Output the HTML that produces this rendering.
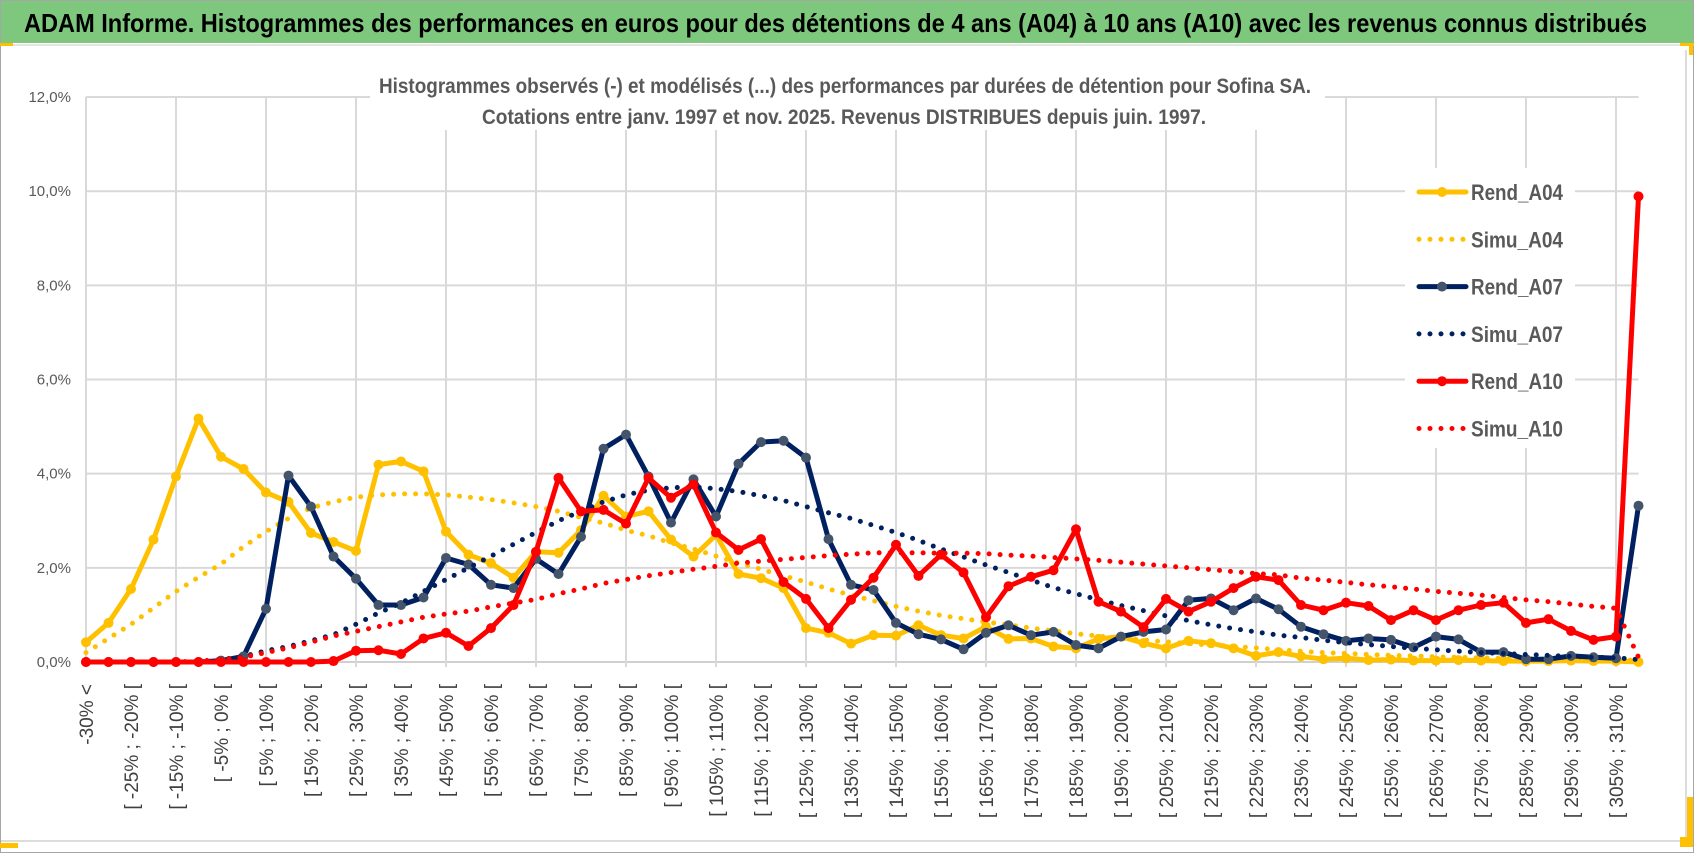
<!DOCTYPE html>
<html><head><meta charset="utf-8">
<style>
html,body{margin:0;padding:0;background:#fff;}
body{width:1698px;height:854px;overflow:hidden;position:relative;font-family:"Liberation Sans",sans-serif;}
svg{position:absolute;left:0;top:0;}
</style></head>
<body>
<svg id="chart" width="1698" height="854" viewBox="0 0 1698 854">
  <rect x="0" y="0" width="1698" height="854" fill="#fff"/>
  <rect x="0.5" y="0.5" width="1693" height="852" fill="none" stroke="#a6a6a6" stroke-width="1"/>
  <rect x="1" y="1" width="1692" height="42" fill="#7ec87e"/>
  <line x1="1" y1="45" x2="1693" y2="45" stroke="#e4e4e4" stroke-width="2"/>
  <rect x="0" y="43" width="13" height="3" fill="#ffc000"/>
  <rect x="1680" y="43" width="14" height="3" fill="#ffc000"/>
  <rect x="1689" y="43" width="4" height="12" fill="#ffc000"/>
  <line x1="1" y1="841" x2="1686" y2="841" stroke="#dcdcdc" stroke-width="2"/>
  <line x1="1686" y1="50" x2="1686" y2="841" stroke="#dcdcdc" stroke-width="2"/>
  <rect x="0" y="843" width="18" height="5" fill="#ffc000"/>
  <rect x="1680" y="837" width="13" height="10" fill="#ffc000"/>
  <rect x="1687" y="797" width="6" height="50" fill="#ffc000"/>
  <text x="24" y="32" font-family="Liberation Sans, sans-serif" font-weight="bold" font-size="26" fill="#000" textLength="1623" lengthAdjust="spacingAndGlyphs">ADAM Informe. Histogrammes des performances en euros pour des détentions de 4 ans (A04) à 10 ans (A10) avec les revenus connus distribués</text>
  <g id="grid"></g>
  <g id="yaxis"></g>
  <g id="xaxis"></g>
  <rect x="370" y="66" width="955" height="64" fill="#fff"/>
  <text x="845" y="93" text-anchor="middle" font-family="Liberation Sans, sans-serif" font-weight="bold" font-size="21" fill="#595959" textLength="932" lengthAdjust="spacingAndGlyphs">Histogrammes observés (-) et modélisés (...)  des performances par durées de détention pour Sofina SA.</text>
  <text x="844" y="124" text-anchor="middle" font-family="Liberation Sans, sans-serif" font-weight="bold" font-size="21" fill="#595959" textLength="724" lengthAdjust="spacingAndGlyphs">Cotations entre janv. 1997 et nov. 2025. Revenus DISTRIBUES depuis juin. 1997.</text>
  <g id="series"></g>
  <g id="legend"></g>
</svg>
<script>
const yTicks = ["0,0%","2,0%","4,0%","6,0%","8,0%","10,0%","12,0%"];
const yTickValues = [0,2,4,6,8,10,12];
const categories = ["-30% <"];
for (let k = 1; k <= 68; k++) { categories.push("[ " + (-35 + 5*k) + "% ; " + (-30 + 5*k) + "% ["); }
categories.push("310% >=");
const seriesNames = ["Rend_A04","Simu_A04","Rend_A07","Simu_A07","Rend_A10","Simu_A10"];
const rendA04 = [0.42,0.83,1.55,2.6,3.94,5.17,4.36,4.1,3.6,3.4,2.74,2.55,2.36,4.19,4.26,4.05,2.77,2.28,2.1,1.79,2.34,2.32,2.8,3.53,3.09,3.2,2.6,2.24,2.7,1.87,1.78,1.57,0.72,0.62,0.39,0.57,0.56,0.78,0.57,0.5,0.75,0.49,0.5,0.33,0.29,0.49,0.54,0.4,0.29,0.45,0.4,0.29,0.13,0.21,0.12,0.06,0.08,0.04,0.05,0.03,0.03,0.04,0.03,0.02,0.02,0.02,0.03,0.02,0.02,0.0];
const simuA04 = [0.2,0.5,0.8,1.15,1.5,1.8,2.08,2.45,2.77,3.05,3.27,3.4,3.5,3.55,3.57,3.57,3.55,3.5,3.45,3.38,3.3,3.2,3.07,2.95,2.8,2.68,2.53,2.4,2.25,2.1,1.97,1.83,1.7,1.55,1.42,1.3,1.18,1.08,0.99,0.92,0.85,0.79,0.72,0.66,0.6,0.55,0.51,0.47,0.43,0.39,0.36,0.33,0.3,0.26,0.23,0.2,0.18,0.16,0.14,0.13,0.11,0.1,0.09,0.08,0.07,0.06,0.05,0.05,0.04,0.04];
const rendA07 = [0,0,0,0,0,0,0.03,0.12,1.13,3.96,3.3,2.24,1.77,1.21,1.21,1.37,2.21,2.07,1.64,1.57,2.19,1.87,2.66,4.53,4.83,3.94,2.96,3.88,3.09,4.21,4.67,4.7,4.34,2.61,1.64,1.53,0.83,0.59,0.48,0.27,0.62,0.78,0.57,0.64,0.36,0.29,0.54,0.64,0.69,1.31,1.35,1.1,1.35,1.12,0.75,0.59,0.45,0.5,0.47,0.31,0.54,0.48,0.21,0.21,0.06,0.06,0.13,0.1,0.08,3.32];
const simuA07 = [0,0,0,0,0,0,0.05,0.12,0.24,0.33,0.45,0.58,0.8,1.04,1.25,1.5,1.75,2.0,2.25,2.5,2.75,3.0,3.2,3.4,3.55,3.65,3.7,3.72,3.68,3.62,3.53,3.43,3.3,3.17,3.05,2.9,2.75,2.58,2.4,2.23,2.06,1.9,1.74,1.58,1.45,1.32,1.2,1.09,0.98,0.88,0.79,0.71,0.64,0.57,0.52,0.46,0.41,0.37,0.33,0.29,0.26,0.23,0.2,0.18,0.16,0.14,0.12,0.1,0.09,0.05];
const rendA10 = [0,0,0,0,0,0,0,0,0,0,0,0.02,0.24,0.25,0.17,0.5,0.62,0.34,0.72,1.21,2.34,3.91,3.2,3.23,2.94,3.91,3.49,3.77,2.75,2.38,2.61,1.7,1.34,0.72,1.32,1.79,2.49,1.83,2.28,1.9,0.95,1.61,1.81,1.95,2.82,1.28,1.07,0.74,1.34,1.07,1.28,1.57,1.81,1.74,1.21,1.1,1.26,1.19,0.89,1.1,0.89,1.1,1.21,1.26,0.83,0.91,0.66,0.47,0.54,9.89];
const simuA10 = [0,0,0,0,0,0.02,0.05,0.1,0.2,0.3,0.42,0.55,0.65,0.75,0.85,0.95,1.02,1.08,1.17,1.25,1.33,1.45,1.55,1.67,1.75,1.83,1.9,1.97,2.03,2.1,2.14,2.18,2.22,2.26,2.29,2.32,2.32,2.32,2.31,2.31,2.3,2.27,2.25,2.22,2.19,2.16,2.12,2.08,2.04,2.0,1.96,1.92,1.88,1.85,1.78,1.74,1.69,1.64,1.6,1.55,1.5,1.46,1.42,1.37,1.32,1.28,1.23,1.18,1.14,0.1];

const NS = "http://www.w3.org/2000/svg";
const X0 = 86, STEP = 22.5, Y0 = 662, YPER = 47.08;
function xs(i){ return X0 + i*STEP; }
function ys(v){ return Y0 - v*YPER; }
function mk(tag, attrs, parent){ const e = document.createElementNS(NS, tag); for (const k in attrs) e.setAttribute(k, attrs[k]); parent.appendChild(e); return e; }

const grid = document.getElementById('grid');
const yaxis = document.getElementById('yaxis');
const xaxis = document.getElementById('xaxis');
const right = xs(categories.length - 1);
yTickValues.forEach((v, i) => {
  const ln = mk('line', {x1: X0, x2: right, y1: ys(v), y2: ys(v), stroke: i === 0 ? '#d0d0d0' : '#d9d9d9', 'stroke-width': 2}, grid);
  
  
  const t = mk('text', {x: 71, y: ys(v) + 5, 'text-anchor': 'end', 'font-size': 15, fill: '#595959', 'font-family': 'Liberation Sans, sans-serif'}, yaxis);
  t.textContent = yTicks[i];
  
  
});
for (let i = 0; i < categories.length; i += 4) {
  const ln = mk('line', {x1: xs(i), x2: xs(i), y1: ys(12), y2: Y0 + 5, stroke: '#d9d9d9', 'stroke-width': 2}, grid);
  
  
}
for (let i = 0; i < categories.length - 1; i += 2) {
  const t = mk('text', {transform: 'translate(' + (xs(i) + 7) + ',684) rotate(-90)', 'text-anchor': 'end', 'font-size': 19, fill: '#404040', 'font-family': 'Liberation Sans, sans-serif'}, xaxis);
  t.textContent = categories[i];
  
  
}

const series = document.getElementById('series');
const defs = [
  {data: rendA04, color: '#ffc000', marker: '#ffc000', dotted: false, name: 'rend-a04'},
  {data: simuA04, color: '#ffc000', dotted: true, name: 'simu-a04'},
  {data: rendA07, color: '#002060', marker: '#44546a', dotted: false, name: 'rend-a07'},
  {data: simuA07, color: '#002060', dotted: true, name: 'simu-a07'},
  {data: rendA10, color: '#ff0000', marker: '#ff0000', dotted: false, name: 'rend-a10'},
  {data: simuA10, color: '#ff0000', dotted: true, name: 'simu-a10'}
];
defs.forEach(d => {
  const g = mk('g', {}, series);
  
  
  const pts = d.data.map((v, i) => xs(i).toFixed(1) + ',' + ys(v).toFixed(1)).join(' ');
  const pl = mk('polyline', {points: pts, fill: 'none', stroke: d.color, 'stroke-width': 5, 'stroke-linejoin': 'round', 'stroke-linecap': 'round'}, g);
  if (d.dotted) pl.setAttribute('stroke-dasharray', '0 11');
  
  
  if (!d.dotted) {
    d.data.forEach((v, i) => {
      const c = mk('circle', {cx: xs(i), cy: ys(v), r: 5, fill: d.marker}, g);
      
      
    });
  }
});

const legend = document.getElementById('legend');
mk('rect', {x: 1405, y: 168, width: 170, height: 280, fill: '#fff'}, legend);
seriesNames.forEach((n, i) => {
  const d = defs[i];
  const y = 192 + i * 47.3;
  const g = mk('g', {}, legend);
  
  
  const ln = mk('line', {x1: 1419, x2: 1466, y1: y, y2: y, stroke: d.color, 'stroke-width': 5, 'stroke-linecap': 'round'}, g);
  if (d.dotted) ln.setAttribute('stroke-dasharray', '0 11');
  if (!d.dotted) mk('circle', {cx: 1442, cy: y, r: 5, fill: d.marker}, g);
  const t = mk('text', {x: 1471, y: y + 8, 'font-size': 22, 'font-weight': 'bold', fill: '#595959', 'font-family': 'Liberation Sans, sans-serif', textLength: 92, lengthAdjust: 'spacingAndGlyphs'}, g);
  t.textContent = n;
});
</script>
</body></html>
